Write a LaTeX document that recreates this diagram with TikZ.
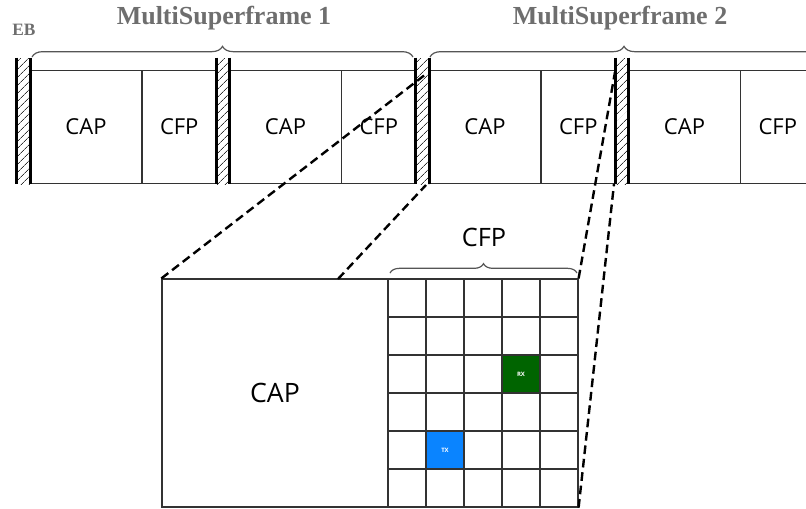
\documentclass[tikz,border=0pt]{standalone}
\usepackage{fontspec}
\setmainfont{Liberation Serif}
\newfontfamily\labelfont{Open Sans}
\usetikzlibrary{patterns.meta,decorations.pathreplacing}

\definecolor{titlegray}{HTML}{6E6E6E}
\definecolor{rxgreen}{HTML}{006400}
\definecolor{txblue}{HTML}{0A84FF}
\definecolor{edge}{HTML}{333333}
\definecolor{bracegray}{HTML}{555555}

\begin{document}
\begin{tikzpicture}[x=0.75pt,y=-0.75pt,
  ebbar/.style={minimum width=9.75pt, minimum height=94.5pt, inner sep=0pt,
    pattern={Lines[angle=45, distance=4pt, line width=0.55pt]}, pattern color=edge},
  ebline/.style={line width=2pt, black},
  slot/.style={draw=edge, line width=0.9pt, minimum height=84.75pt, inner sep=0pt,
    font=\labelfont\fontsize{16.5}{18}\selectfont},
  title/.style={font=\bfseries\fontsize{19.5}{22}\selectfont, text=titlegray},
  brc/.style={decorate, decoration={brace, amplitude=8pt}, draw=bracegray, line width=0.9pt},
  zoomline/.style={line width=1.8pt, dash pattern=on 6.5pt off 3.6pt},
  cell/.style={draw=edge, line width=0.9pt, minimum size=28.5pt, inner sep=0pt,
    text=white, font=\labelfont\bfseries\fontsize{4.5}{5}\selectfont}
]
\useasboundingbox (0,0) rectangle (806,508);
\clip (0,0) rectangle (806,508);

% titles
\node[title] (ms1) at (224,18) {MultiSuperframe 1};
\node[title] (ms2) at (620,18) {MultiSuperframe 2};
\node[font=\bfseries\fontsize{13}{14}\selectfont, text=titlegray] (eb) at (24,30) {EB};

% superframes: beacon bar, CAP slot, CFP slot
\foreach \i in {0,1,2,3}{
  \pgfmathsetmacro{\off}{199.5*\i}
  \node[slot, minimum width=84pt] (cap\i) at (86+\off,127) {CAP};
  \node[slot, minimum width=55.9pt] (cfp\i) at (179.25+\off,127) {CFP};
  \node[ebbar, fill=white] (eb\i) at (23.5+\off,121) {};
  \node[ebbar] at (eb\i) {};
  \draw[ebline] (eb\i.north west) -- (eb\i.south west);
  \draw[ebline] (eb\i.north east) -- (eb\i.south east);
}

% multisuperframe braces
\draw[brc] (32,57) -- (413,57);
\draw[brc] (430,57) -- (818,57);

% enlarged superframe
\node[draw=edge, line width=0.9pt, minimum width=169.5pt, minimum height=171pt, inner sep=0pt,
  font=\labelfont\fontsize{20}{22}\selectfont] (capbig) at (275,393) {CAP};
\node[draw=edge, line width=0.9pt, minimum width=142.5pt, minimum height=171pt, inner sep=0pt] (grid) at (483,393) {};
\foreach \k in {1,...,4}{
  \draw[edge, line width=0.9pt] (388+38*\k,279) -- (388+38*\k,507);
}
\foreach \k in {1,...,5}{
  \draw[edge, line width=0.9pt] (388,279+38*\k) -- (578,279+38*\k);
}
\node[cell, fill=rxgreen] (rx) at (521,374) {RX};
\node[cell, fill=txblue] (tx) at (445,450) {TX};

% CFP brace and label
\draw[brc, decoration={brace, amplitude=7pt}] (390,273) -- (577,273);
\node[font=\labelfont\fontsize{19}{21}\selectfont] (cfplabel) at (484,237) {CFP};

% zoom guide lines
\coordinate (m1) at (426,74);
\coordinate (m2) at (426,185);
\coordinate (m3) at (615,72);
\coordinate (m4) at (614,184);
\coordinate (capcut) at (338,279);
\draw[zoomline] (capbig.north west) -- (m1);
\draw[zoomline] (capcut) -- (m2);
\draw[zoomline] (grid.north east) -- (m3);
\draw[zoomline] (grid.south east) -- (m4);
\end{tikzpicture}
\end{document}
